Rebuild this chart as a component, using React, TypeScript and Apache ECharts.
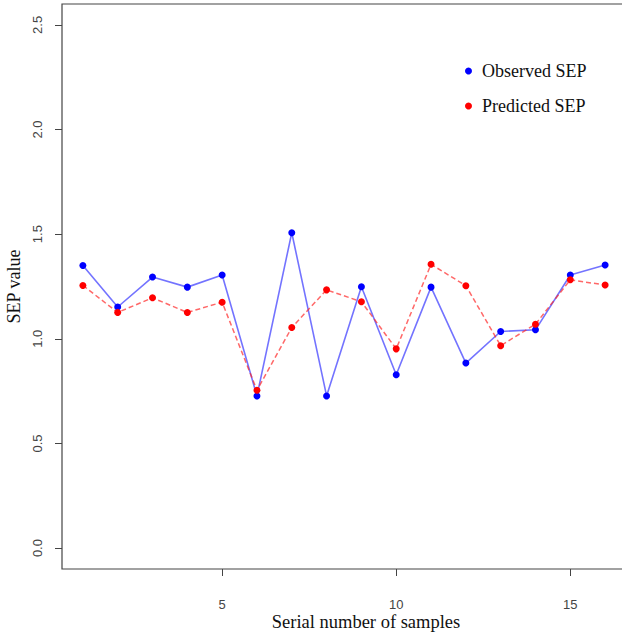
import React, { useEffect, useRef } from "react";
import * as echarts from "echarts";

const samples = [1, 2, 3, 4, 5, 6, 7, 8, 9, 10, 11, 12, 13, 14, 15, 16];
const observedSEP = [1.35, 1.152, 1.295, 1.247, 1.305, 0.727, 1.507, 0.727, 1.249, 0.828, 1.247, 0.884, 1.035, 1.043, 1.305, 1.353];
const predictedSEP = [1.255, 1.126, 1.196, 1.126, 1.175, 0.754, 1.054, 1.234, 1.177, 0.952, 1.356, 1.254, 0.967, 1.07, 1.282, 1.257];
const xTicks = [5, 10, 15];
const yTicks = [0, 0.5, 1.0, 1.5, 2.0, 2.5];

export default function App() {
  const ref = useRef<HTMLDivElement>(null);
  useEffect(() => {
    if (!ref.current) return;
    const chart = echarts.init(ref.current, null, { renderer: "svg" });
    const sans = "Liberation Sans, Arial, sans-serif";
    const serif = "Liberation Serif, Times New Roman, serif";
    chart.setOption({
      animation: false,
      backgroundColor: "#ffffff",
      grid: {
        left: 62,
        top: 4,
        right: 4,
        bottom: 64,
        show: true,
        borderColor: "#444",
        borderWidth: 1.2,
        backgroundColor: "transparent",
        containLabel: false,
        outerBoundsMode: "none",
      },
      legend: {
        left: 460,
        top: 57,
        orient: "vertical",
        icon: "circle",
        itemWidth: 7,
        itemHeight: 7,
        itemGap: 17,
        textStyle: { fontFamily: serif, fontSize: 18, color: "#111", padding: [0, 0, 0, 5] },
        data: ["Observed SEP", "Predicted SEP"],
      },
      xAxis: {
        type: "value",
        min: 0.4,
        max: 16.6,
        name: "Serial number of samples",
        nameLocation: "middle",
        nameGap: 44,
        nameMoveOverlap: false,
        nameTextStyle: { fontFamily: serif, fontSize: 18.5, lineHeight: 18, color: "#111", padding: [0, 0, 0, 44] },
        axisLine: { show: false, onZero: false },
        splitLine: { show: false },
        axisTick: { show: true, length: 7, lineStyle: { color: "#444" }, customValues: xTicks },
        axisLabel: { fontFamily: sans, fontSize: 13, color: "#444", margin: 29, customValues: xTicks },
      },
      yAxis: {
        type: "value",
        min: -0.1,
        max: 2.6,
        name: "SEP value",
        nameLocation: "middle",
        nameGap: 39,
        nameMoveOverlap: false,
        nameRotate: 90,
        nameTextStyle: { fontFamily: serif, fontSize: 18, color: "#111" },
        axisLine: { show: false, onZero: false },
        splitLine: { show: false },
        axisTick: { show: true, length: 7, lineStyle: { color: "#444" }, customValues: yTicks },
        axisLabel: {
          fontFamily: sans,
          fontSize: 13,
          color: "#444",
          margin: 18,
          rotate: 90,
          customValues: yTicks,
          formatter: (v: number) => v.toFixed(1),
        },
      },
      series: [
        {
          name: "Observed SEP",
          type: "line",
          data: samples.map((s, i) => [s, observedSEP[i]]),
          symbol: "circle",
          symbolSize: 7,
          itemStyle: { color: "#0000ff" },
          lineStyle: { color: "rgba(40,40,255,0.65)", width: 1.6, type: "solid" },
        },
        {
          name: "Predicted SEP",
          type: "line",
          data: samples.map((s, i) => [s, predictedSEP[i]]),
          symbol: "circle",
          symbolSize: 7,
          itemStyle: { color: "#ff0000" },
          lineStyle: { color: "rgba(255,40,40,0.7)", width: 1.5, type: [5, 3] },
        },
      ],
    });
    return () => chart.dispose();
  }, []);
  return (
    <div style={{ position: "fixed", left: 0, top: 0, width: 622, height: 633, overflow: "hidden", background: "#fff" }}>
      <div ref={ref} style={{ width: 630, height: 633 }} />
    </div>
  );
}
